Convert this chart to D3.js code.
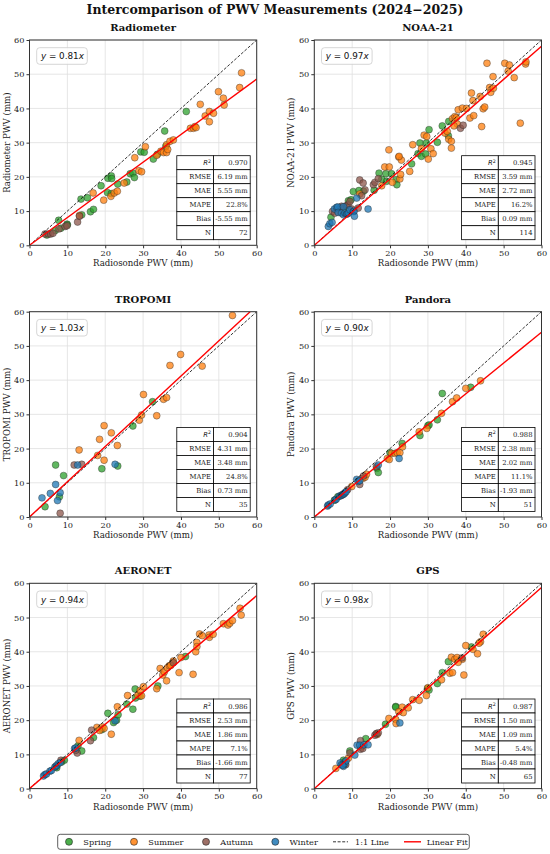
<!DOCTYPE html>
<html><head><meta charset="utf-8">
<script src="https://cdn.jsdelivr.net/npm/d3@7"></script>
<style>body{margin:0;background:#fff} svg{display:block}</style>
</head><body><svg id="c" width="550" height="854"></svg>
<script>
// ---------- data ----------
const seasons = ["Spring", "Summer", "Autumn", "Winter"];
const seasonColors = ["#2ca02c", "#ff7f0e", "#8c564b", "#1f77b4"];
const axisTicks = [0, 10, 20, 30, 40, 50, 60];
const instruments = ["Radiometer", "NOAA-21", "TROPOMI", "Pandora", "AERONET", "GPS"];
const slopes = [0.81, 0.97, 1.03, 0.90, 0.94, 0.98];
const slopeLabels = ["0.81", "0.97", "1.03", "0.90", "0.94", "0.98"];
const statLabels = ["R2", "RMSE", "MAE", "MAPE", "Bias", "N"];
const statRadiometer = ["0.970", "6.19 mm", "5.55 mm", "22.8%", "-5.55 mm", "72"];
const statNoaa = ["0.945", "3.59 mm", "2.72 mm", "16.2%", "0.09 mm", "114"];
const statTropomi = ["0.904", "4.31 mm", "3.48 mm", "24.8%", "0.73 mm", "35"];
const statPandora = ["0.988", "2.38 mm", "2.02 mm", "11.1%", "-1.93 mm", "51"];
const statAeronet = ["0.986", "2.53 mm", "1.86 mm", "7.1%", "-1.66 mm", "77"];
const statGps = ["0.987", "1.50 mm", "1.09 mm", "5.4%", "-0.48 mm", "65"];

// points: [radiosonde, instrument, seasonIndex]  (0 Spring, 1 Summer, 2 Autumn, 3 Winter)
const radiometerPoints = [
[4.6,3.0,0],[6.8,4.3,0],[7.7,7.3,0],[9.9,6.2,0],[13.6,13.5,0],[13.8,8.9,0],[15.3,13.9,0],[16.1,9.8,0],[16.9,10.5,0],[18.9,17.4,0],
[20.6,15.4,0],[20.7,19.6,0],[21.6,20.3,0],[21.7,19.5,0],[21.6,15.1,0],[23.3,17.9,0],[25.7,18.5,0],[26.6,20.9,0],[27.3,21.1,0],[27.7,19.8,0],
[29.4,27.3,0],[30.3,27.2,0],[32.7,25.2,0],[35.7,33.4,0],[36.0,28.9,0],[41.4,39.1,0],[33.8,26.6,0],[8.3,5.0,0],[10.0,6.0,0],
[13.2,8.7,1],[16.8,15.3,1],[19.6,13.2,1],[21.5,14.3,1],[22.4,15.3,1],[23.2,15.8,1],[25.0,18.2,1],[27.8,25.6,1],[28.9,21.8,1],[29.6,21.5,1],
[30.6,28.8,1],[33.6,26.3,1],[34.7,27.5,1],[35.4,27.1,1],[36.2,27.1,1],[36.2,29.4,1],[37.1,30.4,1],[38.0,30.8,1],[42.5,34.2,1],[43.3,34.2,1],
[43.7,34.7,1],[44.0,34.4,1],[45.1,41.2,1],[46.4,37.8,1],[47.5,39.1,1],[47.5,36.1,1],[48.6,38.6,1],[49.9,44.9,1],[51.2,43.0,1],[51.4,41.0,1],
[55.5,46.1,1],[56.0,50.4,1],[36.5,28.0,1],
[4.1,3.3,2],[5.0,3.3,2],[5.6,3.3,2],[6.2,3.5,2],[7.8,4.8,2],[9.4,5.5,2],[9.9,5.7,2],[12.7,6.8,2],[13.2,8.5,2]
];
const noaaPoints = [
[4.4,8.2,0],[8.1,11.3,0],[9.0,13.0,0],[9.7,13.3,0],[10.3,15.7,0],[11.8,16.0,0],[13.0,15.8,0],[15.8,16.1,0],[17.1,21.1,0],[17.8,19.3,0],
[18.9,20.9,0],[19.1,18.7,0],[20.4,20.9,0],[21.6,19.2,0],[21.8,17.7,0],[25.7,23.8,0],[27.4,26.8,0],[27.9,29.9,0],[28.3,26.0,0],[29.4,26.7,0],
[29.6,29.9,0],[30.3,33.8,0],[32.5,30.1,0],[33.8,34.9,0],[35.4,32.0,0],[35.5,36.2,0],
[12.0,15.0,1],[17.8,17.4,1],[18.6,22.9,1],[19.7,27.9,1],[19.8,22.9,1],[20.6,18.4,1],[22.3,25.8,1],[22.6,19.4,1],[23.0,24.9,1],[22.8,20.7,1],
[25.2,21.6,1],[26.0,29.4,1],[28.3,28.3,1],[29.0,32.2,1],[29.7,31.8,1],[30.1,25.2,1],[30.8,28.2,1],[31.4,26.8,1],[34.5,32.8,1],[35.1,33.3,1],
[35.5,31.0,1],[36.2,30.4,1],[36.2,28.4,1],[36.5,37.0,1],[37.1,37.6,1],[37.8,35.4,1],[38.0,39.6,1],[36.9,34.9,1],[39.1,40.1,1],[41.1,37.2,1],
[41.5,44.5,1],[41.9,42.3,1],[42.1,37.9,1],[43.8,43.5,1],[44.2,34.7,1],[44.6,39.9,1],[45.0,40.4,1],[45.6,53.2,1],[46.3,46.1,1],[46.6,44.7,1],
[47.2,49.3,1],[47.3,45.9,1],[50.3,53.2,1],[51.2,50.9,1],[51.5,52.7,1],[52.8,49.0,1],[54.4,35.7,1],[55.8,53.0,1],[55.9,53.6,1],[22.4,26.0,1],
[37.5,37.3,1],[40.2,40.0,1],
[4.8,9.9,2],[5.4,9.4,2],[6.8,10.9,2],[7.2,11.4,2],[8.5,11.6,2],[8.9,11.8,2],[9.4,12.8,2],[9.9,10.6,2],[11.6,10.9,2],[12.0,19.1,2],
[12.5,14.5,2],[12.9,18.2,2],[13.4,16.2,2],[15.6,17.7,2],[16.0,18.4,2],[16.9,19.5,2],[38.6,34.2,2],[39.3,35.1,2],
[3.7,5.5,3],[4.1,6.3,3],[4.7,6.7,3],[5.3,10.6,3],[5.9,11.1,3],[6.2,11.2,3],[6.3,9.6,3],[7.2,9.4,3],[7.7,8.9,3],[8.1,9.4,3],
[8.5,9.1,3],[8.7,9.2,3],[9.0,9.4,3],[9.4,10.4,3],[10.3,9.9,3],[10.5,9.9,3],[10.6,8.5,3],[11.2,13.8,3],[14.2,10.6,3],[7.7,11.3,3]
];
const tropomiPoints = [
[4.1,3.0,0],[6.9,15.2,0],[7.9,5.9,0],[9.0,12.1,0],[19.1,14.1,0],[23.3,14.9,0],[27.3,26.6,0],[32.5,33.7,0],
[13.1,19.6,1],[18.0,18.0,1],[18.5,22.7,1],[19.7,26.7,1],[19.7,16.6,1],[21.6,24.6,1],[23.2,20.9,1],[29.0,28.3,1],[29.6,29.8,1],[30.1,35.8,1],
[33.6,29.6,1],[35.4,34.4,1],[36.2,34.9,1],[37.1,44.3,1],[39.9,47.5,1],[45.6,44.1,1],[53.6,58.9,1],
[8.1,1.1,2],[11.8,15.2,2],[13.8,15.4,2],
[3.3,5.6,3],[5.5,6.9,3],[6.9,9.5,3],[7.4,4.8,3],[8.1,7.1,3],[12.7,15.2,3],[22.6,15.4,3]
];
const pandoraPoints = [
[5.3,4.9,0],[6.2,5.9,0],[16.5,14.2,0],[16.9,13.0,0],[20.0,18.8,0],[23.2,21.5,0],[27.9,23.8,0],[30.0,26.7,0],[30.3,26.9,0],[32.5,28.4,0],
[33.8,36.1,0],[41.3,37.9,0],
[9.9,8.9,1],[12.9,11.3,1],[13.4,11.6,1],[13.8,12.5,1],[19.3,17.1,1],[19.8,16.8,1],[20.4,18.6,1],[21.3,18.6,1],[21.9,18.8,1],[22.6,18.8,1],
[23.3,20.5,1],[27.7,24.9,1],[29.7,25.9,1],[33.6,30.3,1],[36.5,33.7,1],[37.6,34.8,1],[40.0,37.6,1],[43.9,39.8,1],
[12.0,9.5,2],[16.4,14.7,2],[13.0,12.0,2],[8.8,8.0,2],
[3.5,3.2,3],[3.7,3.5,3],[4.2,3.8,3],[5.5,5.0,3],[5.8,5.2,3],[6.6,6.1,3],[7.0,6.2,3],[7.2,6.4,3],[7.5,6.5,3],[7.7,6.7,3],
[7.9,6.8,3],[8.1,7.1,3],[8.4,7.4,3],[11.2,11.0,3],[11.6,10.4,3],[12.0,10.6,3],[16.9,15.2,3],[22.4,17.1,3]
];
const aeronetPoints = [
[7.2,6.1,0],[9.2,8.3,0],[13.8,11.0,0],[12.8,12.5,0],[16.9,14.9,0],[19.1,17.2,0],[20.7,22.0,0],[22.2,19.3,0],[23.0,20.0,0],[23.4,21.6,0],
[25.7,24.7,0],[27.3,23.2,0],[27.9,29.1,0],[28.0,26.5,0],[29.2,27.0,0],[33.9,30.0,0],[41.2,38.6,0],[8.5,7.8,0],
[13.1,14.1,1],[17.8,17.9,1],[19.3,18.0,1],[19.7,17.6,1],[21.6,15.9,1],[23.2,23.9,1],[25.9,27.2,1],[28.6,27.3,1],[29.2,28.7,1],[29.6,27.1,1],
[30.1,29.8,1],[33.6,29.2,1],[34.5,35.1,1],[35.2,33.2,1],[35.6,34.1,1],[36.2,31.5,1],[36.4,35.3,1],[36.9,35.9,1],[37.8,36.8,1],[38.0,37.3,1],
[39.5,33.9,1],[40.0,38.3,1],[43.2,33.4,1],[43.9,40.0,1],[44.2,42.7,1],[44.2,41.5,1],[44.9,45.2,1],[45.6,44.7,1],[47.4,44.9,1],[47.5,44.2,1],
[48.5,45.1,1],[51.2,48.2,1],[52.4,47.8,1],[52.9,48.3,1],[53.6,49.1,1],[55.6,52.7,1],[55.9,50.7,1],[37.3,36.0,1],[18.5,17.0,1],
[12.6,10.4,2],[16.1,14.0,2],[16.4,17.1,2],[8.3,8.3,2],[12.2,11.2,2],[38.0,36.8,2],
[3.7,3.7,3],[4.1,4.1,3],[4.5,4.3,3],[5.4,5.1,3],[5.8,5.3,3],[6.7,6.3,3],[7.0,6.5,3],[7.2,6.8,3],[7.6,7.3,3],[8.1,7.6,3],
[11.9,11.7,3],[12.2,11.9,3],[22.6,19.8,3]
];
const gpsPoints = [
[7.7,8.3,0],[9.4,11.0,0],[13.6,14.6,0],[18.8,18.8,0],[21.5,24.0,0],[21.5,23.8,0],[29.9,29.3,0],[30.3,28.8,0],[32.5,30.7,0],[33.8,33.9,0],
[35.4,37.1,0],[41.5,41.4,0],[16.5,16.0,0],[8.0,7.8,0],
[5.7,5.9,1],[19.7,20.5,1],[21.5,20.2,1],[21.6,19.0,1],[23.2,23.8,1],[24.8,23.6,1],[27.7,25.8,1],[29.6,27.2,1],[33.6,31.8,1],[35.8,33.7,1],
[36.2,38.4,1],[37.1,37.8,1],[37.7,38.3,1],[39.1,37.8,1],[39.5,33.2,1],[40.0,41.8,1],[41.9,40.7,1],[43.1,39.4,1],[43.9,42.9,1],[44.6,45.1,1],
[36.5,33.9,1],[23.5,22.2,1],[30.0,29.5,1],[16.6,15.8,1],[26.0,26.0,1],[38.0,36.9,1],[43.5,42.5,1],[9.0,8.9,1],[22.3,22.5,1],[12.5,12.2,1],
[9.4,10.4,2],[12.2,14.0,2],[12.2,11.5,2],[12.8,11.7,2],[16.0,15.6,2],[16.4,16.1,2],[39.0,38.2,2],[8.3,7.0,2],[16.9,16.3,2],
[6.8,7.5,3],[7.2,7.0,3],[7.7,6.5,3],[8.1,7.3,3],[8.4,8.1,3],[10.7,9.8,3],[11.3,12.7,3],[12.0,12.7,3],[13.1,12.8,3],[14.2,12.8,3],
[22.6,19.2,3],[7.5,6.8,3]
];
const panelPoints = [radiometerPoints, noaaPoints, tropomiPoints, pandoraPoints, aeronetPoints, gpsPoints];
const panelStats = [statRadiometer, statNoaa, statTropomi, statPandora, statAeronet, statGps];

// ---------- layout ----------
const colLeft = [29.5, 314.3];
const rowTop = [40, 311.7, 583.3];
const PW = 227.2, PH = 205.3;
const SERIF = "'DejaVu Serif', serif";
const SANS = "'DejaVu Sans', sans-serif";

const svg = d3.select("#c");
svg.append("rect").attr("width", 550).attr("height", 854).attr("fill", "#fff");

svg.append("text").attr("x", 275).attr("y", 14).attr("text-anchor", "middle")
  .attr("font-family", SERIF).attr("font-weight", "bold").attr("font-size", 12.5)
  .attr("fill", "#111").text("Intercomparison of PWV Measurements (2024\u22122025)");

instruments.forEach((name, i) => {
  const left = colLeft[i % 2], top = rowTop[Math.floor(i / 2)];
  const x = d3.scaleLinear().domain([0, 60]).range([left, left + PW]);
  const y = d3.scaleLinear().domain([0, 60]).range([top + PH, top]);
  const g = svg.append("g");
  const clipId = "clip" + i;
  g.append("clipPath").attr("id", clipId).append("rect")
    .attr("x", left).attr("y", top).attr("width", PW).attr("height", PH);

  // grid
  g.append("g").selectAll("line").data(axisTicks).join("line")
    .attr("x1", d => x(d)).attr("x2", d => x(d)).attr("y1", top).attr("y2", top + PH)
    .attr("stroke", "#e0e0e0").attr("stroke-width", 0.8);
  g.append("g").selectAll("line").data(axisTicks).join("line")
    .attr("y1", d => y(d)).attr("y2", d => y(d)).attr("x1", left).attr("x2", left + PW)
    .attr("stroke", "#e0e0e0").attr("stroke-width", 0.8);

  // points
  const pts = panelPoints[i].slice().sort((a, b) => a[2] - b[2]);
  g.append("g").attr("clip-path", `url(#${clipId})`).selectAll("circle").data(pts).join("circle")
    .attr("cx", d => x(d[0])).attr("cy", d => y(d[1])).attr("r", 3.45)
    .attr("fill", d => seasonColors[d[2]]).attr("fill-opacity", 0.75)
    .attr("stroke", "#222").attr("stroke-opacity", 0.75).attr("stroke-width", 0.5);

  // lines
  const lines = g.append("g").attr("clip-path", `url(#${clipId})`);
  lines.append("line").attr("x1", x(0)).attr("y1", y(0)).attr("x2", x(60)).attr("y2", y(60))
    .attr("stroke", "#000").attr("stroke-width", 0.8).attr("stroke-dasharray", "3,1.6");
  const xe = Math.min(60, 60 / slopes[i]);
  lines.append("line").attr("x1", x(0)).attr("y1", y(0)).attr("x2", x(xe)).attr("y2", y(slopes[i] * xe))
    .attr("stroke", "#ff0000").attr("stroke-width", 1.4);

  // axes
  const ax = d3.axisBottom(x).tickValues(axisTicks).tickSize(3).tickPadding(2);
  const ay = d3.axisLeft(y).tickValues(axisTicks).tickSize(3).tickPadding(2);
  const gx = g.append("g").attr("transform", `translate(0,${top + PH})`).call(ax);
  const gy = g.append("g").attr("transform", `translate(${left},0)`).call(ay);
  [gx, gy].forEach(a => {
    a.select(".domain").remove();
    a.selectAll("line").attr("stroke", "#333");
    a.selectAll("text").attr("font-family", SERIF).attr("font-size", 8.2).attr("fill", "#222");
  });
  g.append("rect").attr("x", left).attr("y", top).attr("width", PW).attr("height", PH)
    .attr("fill", "none").attr("stroke", "#333").attr("stroke-width", 1);

  // titles / labels
  g.append("text").attr("x", left + PW / 2).attr("y", top - 9).attr("text-anchor", "middle")
    .attr("font-family", SERIF).attr("font-weight", "bold").attr("font-size", 10).attr("fill", "#111").text(name);
  g.append("text").attr("x", left + PW / 2).attr("y", top + PH + 21).attr("text-anchor", "middle")
    .attr("font-family", SERIF).attr("font-size", 8.6).attr("fill", "#222").text("Radiosonde PWV (mm)");
  g.append("text").attr("transform", `translate(${left - 20},${top + PH / 2}) rotate(-90)`).attr("text-anchor", "middle")
    .attr("font-family", SERIF).attr("font-size", 8.6).attr("fill", "#222").text(name + " PWV (mm)");

  // equation box
  const ex = left + 7.2, ey = top + 7.7;
  g.append("rect").attr("x", ex).attr("y", ey).attr("width", 50.6).attr("height", 16.6).attr("rx", 3)
    .attr("fill", "#fff").attr("fill-opacity", 0.85).attr("stroke", "#cccccc").attr("stroke-width", 0.8);
  const et = g.append("text").attr("x", ex + 4.2).attr("y", ey + 11.7)
    .attr("font-family", SANS).attr("font-size", 8.8).attr("fill", "#111");
  et.append("tspan").attr("font-style", "italic").text("y");
  et.append("tspan").text(" = " + slopeLabels[i]);
  et.append("tspan").attr("font-style", "italic").text("x");

  // stats table
  const tw = 73.4, rh = 14, tx = left + PW - 6.5 - tw, ty = top + PH - 5.6 - rh * 6, cw = tw / 2;
  const tb = g.append("g");
  statLabels.forEach((lab, r) => {
    tb.append("rect").attr("x", tx).attr("y", ty + r * rh).attr("width", cw).attr("height", rh)
      .attr("fill", "#fff").attr("stroke", "#000").attr("stroke-width", 0.8);
    tb.append("rect").attr("x", tx + cw).attr("y", ty + r * rh).attr("width", cw).attr("height", rh)
      .attr("fill", "#fff").attr("stroke", "#000").attr("stroke-width", 0.8);
    const lt = tb.append("text").attr("x", tx + cw - 2.5).attr("y", ty + r * rh + 9.6).attr("text-anchor", "end")
      .attr("font-family", SERIF).attr("font-size", 6.8).attr("fill", "#222");
    if (lab === "R2") {
      lt.append("tspan").attr("font-family", SANS).attr("font-style", "italic").text("R");
      lt.append("tspan").attr("font-family", SANS).attr("font-size", 4.8).attr("dy", -2.6).text("2");
    } else lt.text(lab);
    tb.append("text").attr("x", tx + tw - 2.5).attr("y", ty + r * rh + 9.6).attr("text-anchor", "end")
      .attr("font-family", SERIF).attr("font-size", 6.8).attr("fill", "#222").text(panelStats[i][r]);
  });
});

// legend
const lg = svg.append("g");
lg.append("rect").attr("x", 57.7).attr("y", 834.3).attr("width", 411.6).attr("height", 15).attr("rx", 2.5)
  .attr("fill", "#fff").attr("stroke", "#333").attr("stroke-width", 0.8);
const ly = 841.8;
const markerX = [69, 134, 206, 275.3];
seasons.forEach((s, k) => {
  lg.append("circle").attr("cx", markerX[k]).attr("cy", ly).attr("r", 3.5)
    .attr("fill", seasonColors[k]).attr("fill-opacity", 0.85).attr("stroke", "#222").attr("stroke-width", 0.6);
  lg.append("text").attr("x", markerX[k] + 14.3).attr("y", ly + 2.9).attr("font-family", SERIF)
    .attr("font-size", 8.2).attr("fill", "#222").text(s);
});
lg.append("line").attr("x1", 333).attr("x2", 348).attr("y1", ly).attr("y2", ly)
  .attr("stroke", "#000").attr("stroke-width", 0.8).attr("stroke-dasharray", "3,1.6");
lg.append("text").attr("x", 355).attr("y", ly + 2.9).attr("font-family", SERIF).attr("font-size", 8.2).attr("fill", "#222").text("1:1 Line");
lg.append("line").attr("x1", 404).attr("x2", 421).attr("y1", ly).attr("y2", ly)
  .attr("stroke", "#ff0000").attr("stroke-width", 1.4);
lg.append("text").attr("x", 426.7).attr("y", ly + 2.9).attr("font-family", SERIF).attr("font-size", 8.2).attr("fill", "#222").text("Linear Fit");
</script></body></html>
